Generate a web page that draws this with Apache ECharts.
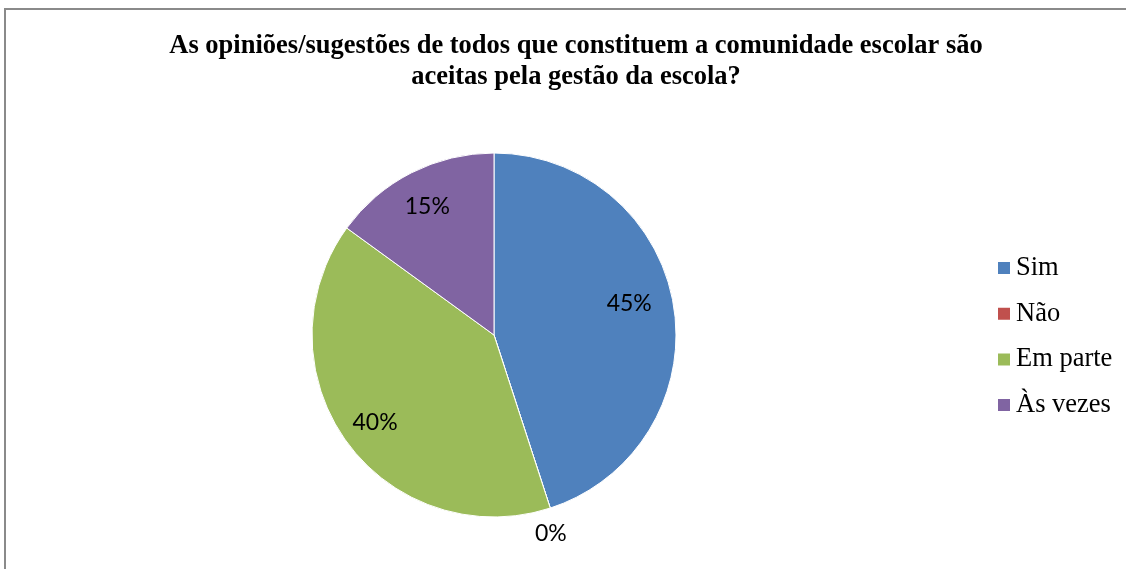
<!DOCTYPE html>
<html>
<head>
<meta charset="utf-8">
<script src="https://cdn.jsdelivr.net/npm/echarts@6/dist/echarts.min.js"></script>
<style>
  html, body { margin: 0; padding: 0; background: #fff; }
  #chart { width: 1126px; height: 569px; }
</style>
</head>
<body>
<div id="chart"></div>
<script>
const titleLines = [
  'As opiniões/sugestões de todos que constituem a comunidade escolar são',
  'aceitas pela gestão da escola?'
]
const categories = ['Sim', 'Não', 'Em parte', 'Às vezes']
const values = [45, 0, 40, 15]
const colors = ['#4F81BD', '#C0504D', '#9BBB59', '#8064A2']

const center = [494, 335]
const radius = 182

const chart = echarts.init(document.getElementById('chart'))

// visible pie; only the zero slice gets its label here (outside)
const pieData = categories.map((name, i) => ({
  name,
  value: values[i],
  itemStyle: { color: colors[i] },
  label: { show: values[i] === 0 }
}))

// transparent overlay only used to place the inner labels further out
const labelData = categories.map((name, i) => ({
  name,
  value: values[i],
  label: { show: values[i] !== 0 }
}))

// small nudges so labels sit where the original put them
const labelNudge = [{ dx: -10, dy: -8 }, {}, { dy: 1 }, { dy: 3 }]

chart.setOption({
  animation: false,
  title: {
    text: titleLines.join('\n'),
    left: 576,
    top: 31,
    textAlign: 'center',
    padding: 0,
    textStyle: {
      fontFamily: 'Liberation Serif',
      fontWeight: 'bold',
      fontSize: 26.5,
      lineHeight: 31,
      color: '#000'
    }
  },
  legend: {
    orient: 'vertical',
    left: 996,
    top: 254.5,
    padding: 0,
    itemWidth: 14,
    itemHeight: 14,
    itemGap: 18.7,
    icon: 'rect',
    selectedMode: false,
    data: categories.map((name, i) => ({ name, itemStyle: { color: colors[i] } })),
    textStyle: {
      fontFamily: 'Liberation Serif',
      fontSize: 26.5,
      color: '#000'
    }
  },
  graphic: [{
    type: 'rect',
    shape: { x: 5, y: 9, width: 1200, height: 700 },
    style: { fill: 'none', stroke: '#8a8a8a', lineWidth: 2 },
    silent: true
  }],
  series: [
    {
      type: 'pie',
      center,
      radius,
      startAngle: 90,
      clockwise: true,
      silent: true,
      data: pieData,
      itemStyle: { borderColor: '#fff', borderWidth: 1 },
      label: {
        position: 'outside',
        formatter: '{d}%',
        distanceToLabelLine: 0,
        fontFamily: 'Lato',
        fontSize: 23,
        color: '#000'
      },
      labelLine: { show: true, length: 12, length2: 0, lineStyle: { opacity: 0 } },
      labelLayout: { dx: -19, dy: 14 }
    },
    {
      type: 'pie',
      center,
      radius: [0, 288],
      startAngle: 90,
      clockwise: true,
      silent: true,
      data: labelData,
      itemStyle: { color: 'rgba(0,0,0,0)' },
      label: {
        position: 'inside',
        formatter: '{d}%',
        fontFamily: 'Lato',
        fontSize: 23,
        color: '#000'
      },
      labelLine: { show: false },
      labelLayout: (p) => labelNudge[p.dataIndex]
    }
  ]
})
</script>
</body>
</html>
